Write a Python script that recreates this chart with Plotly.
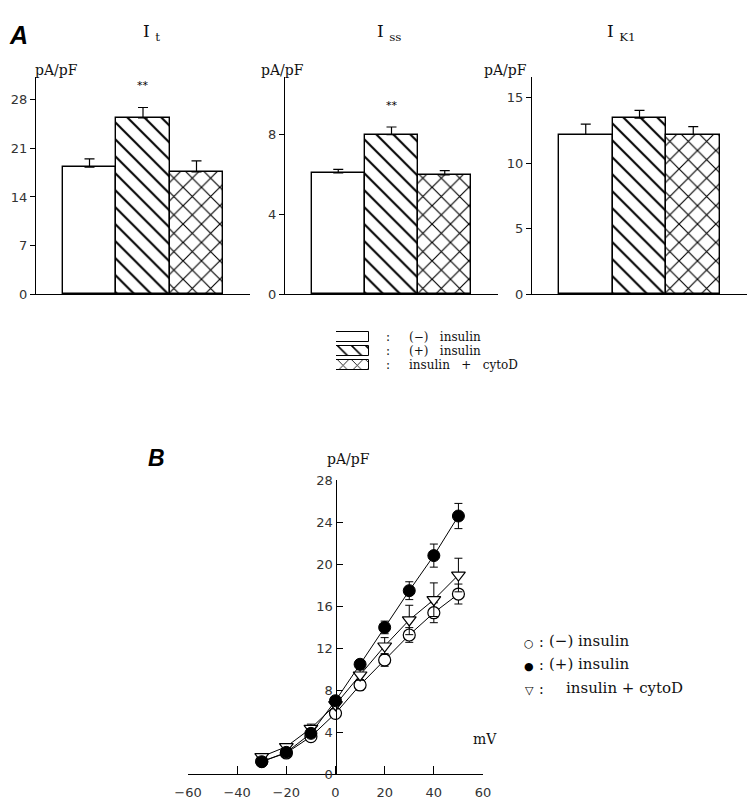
import plotly.graph_objects as go

# ---------------- data ----------------
CONDITIONS = ["(−) insulin", "(+) insulin", "insulin + cytoD"]
A_TITLES = ["I <sub>t</sub>", "I <sub>ss</sub>", "I <sub>K1</sub>"]
IT_MEAN = [18.3, 25.4, 17.6]
IT_SEM = [1.2, 1.5, 1.6]
ISS_MEAN = [6.05, 7.97, 5.95]
ISS_SEM = [0.18, 0.38, 0.22]
IK1_MEAN = [12.2, 13.45, 12.2]
IK1_SEM = [0.8, 0.6, 0.6]
A_YTICKS = [[0, 7, 14, 21, 28], [0, 4, 8], [0, 5, 10, 15]]
A_YMAX = [31.3, 10.85, 16.6]
SIGNIF = [["", "**", ""], ["", "**", ""], ["", "", ""]]

VOLT = [-30, -20, -10, 0, 10, 20, 30, 40, 50]
MINUS_INS = [1.2, 2.0, 3.56, 5.78, 8.48, 10.86, 13.24, 15.36, 17.14]
MINUS_INS_SEM = [0.3, 0.3, 0.4, 0.4, 0.5, 0.6, 0.7, 0.95, 0.95]
PLUS_INS = [1.17, 2.06, 3.87, 6.98, 10.45, 13.96, 17.46, 20.8, 24.57]
PLUS_INS_SEM = [0.3, 0.3, 0.4, 0.4, 0.4, 0.6, 0.85, 1.1, 1.2]
CYTOD = [1.65, 2.6, 4.35, 6.6, 9.43, 12.19, 14.67, 16.6, 18.95]
CYTOD_SEM = [0.3, 0.3, 0.4, 0.4, 0.5, 0.8, 1.4, 1.6, 1.6]
B_XTICKS = [-60, -40, -20, 0, 20, 40, 60]
B_YTICKS = [0, 4, 8, 12, 16, 20, 24, 28]

# ---------------- layout helpers ----------------
W, H = 755, 810


def px(x):
    return x / W


def py(y):
    return 1 - y / H


SERIF = "DejaVu Serif"
SANS = "DejaVu Sans"
TICKFONT = dict(family=SANS, size=13, color="#333")

fig = go.Figure()

# ---------------- panel A bars ----------------
means = [IT_MEAN, ISS_MEAN, IK1_MEAN]
sems = [IT_SEM, ISS_SEM, IK1_SEM]
x_domains = [(36, 250), (285, 498), (532, 747)]
patterns = ["", "\\", "x"]
pattern_sizes = [8, 12, 13]

annotations = []
for i in range(3):
    sfx = "" if i == 0 else str(i + 1)
    fig.add_trace(go.Bar(
        x=CONDITIONS, y=means[i], width=1,
        xaxis="x" + sfx, yaxis="y" + sfx,
        marker=dict(color="white", line=dict(color="black", width=1.4),
                    pattern=dict(shape=patterns, size=pattern_sizes, solidity=0.17,
                                 fgcolor="black", bgcolor="white", fgopacity=1)),
        error_y=dict(type="data", array=sems[i], arrayminus=[0] * 3, symmetric=False,
                     color="black", thickness=1.2, width=5),
        showlegend=False, cliponaxis=False,
    ))
    x0, x1 = x_domains[i]
    fig.update_layout(**{
        "xaxis" + sfx: dict(domain=[px(x0), px(x1)], anchor="y" + sfx, range=[-1, 3],
                            type="category", showline=True, linecolor="black", linewidth=1,
                            ticks="", showticklabels=False, showgrid=False, zeroline=False,
                            automargin=False),
        "yaxis" + sfx: dict(domain=[py(294), py(77)], anchor="x" + sfx, range=[0, A_YMAX[i]],
                            tickvals=A_YTICKS[i], ticks="outside", ticklen=5, tickcolor="black",
                            showline=True, linecolor="black", linewidth=1, showgrid=False,
                            zeroline=False, tickfont=TICKFONT, automargin=False),
    })
    # significance stars
    for j, s in enumerate(SIGNIF[i]):
        if s:
            annotations.append(dict(x=CONDITIONS[j], y=means[i][j] + sems[i][j] + 0.1 * A_YMAX[i],
                                    xref="x" + sfx, yref="y" + sfx, text=s, showarrow=False,
                                    font=dict(family=SANS, size=11, color="black")))
    # titles and unit labels
    cx = (x0 + x1) / 2 - 2
    annotations.append(dict(x=px(cx), y=py(19), xref="paper", yref="paper", text=A_TITLES[i],
                            showarrow=False, font=dict(family=SERIF, size=17, color="#111")))
    annotations.append(dict(x=px(x0 - 3), y=py(60), xref="paper", yref="paper", text="pA/pF",
                            showarrow=False, font=dict(family=SERIF, size=14, color="#111")))

# ---------------- panel A legend keys ----------------
fig.add_trace(go.Bar(
    y=CONDITIONS, x=[1, 1, 1], orientation="h", width=0.76,
    xaxis="x4", yaxis="y4",
    marker=dict(color="white", line=dict(color="black", width=1),
                pattern=dict(shape=patterns, size=[8, 10, 10], solidity=0.16,
                             fgcolor="black", bgcolor="white", fgopacity=1)),
    showlegend=False, hoverinfo="skip",
))
leg_rows_a = [337, 351, 365]
fig.update_layout(
    xaxis4=dict(domain=[px(336), px(369)], anchor="y4", range=[0, 1], visible=False,
                automargin=False),
    yaxis4=dict(domain=[py(372), py(330)], anchor="x4", autorange="reversed",
                type="category", visible=False, automargin=False),
)
for k, lab in enumerate(CONDITIONS):
    annotations.append(dict(x=px(388), y=py(leg_rows_a[k]), xref="paper", yref="paper", text=":",
                            showarrow=False, xanchor="center",
                            font=dict(family=SERIF, size=12, color="#111")))
    annotations.append(dict(x=px(407), y=py(leg_rows_a[k]), xref="paper", yref="paper",
                            text=lab.replace(" ", "   "), showarrow=False, xanchor="left",
                            font=dict(family=SERIF, size=12, color="#111")))

# ---------------- panel B ----------------
series_b = [
    (MINUS_INS, MINUS_INS_SEM, dict(symbol="circle", color="white", size=12,
                                    line=dict(color="black", width=1.2))),
    (CYTOD, CYTOD_SEM, dict(symbol="triangle-down", color="white", size=12,
                            line=dict(color="black", width=1.2))),
    (PLUS_INS, PLUS_INS_SEM, dict(symbol="circle", color="black", size=12,
                                  line=dict(color="black", width=1))),
]
for yv, ev, mk in series_b:
    fig.add_trace(go.Scatter(
        x=VOLT, y=yv, mode="lines+markers", xaxis="x5", yaxis="y5",
        line=dict(color="black", width=1), marker=mk,
        error_y=dict(type="data", array=ev, color="black", thickness=1, width=4),
        showlegend=False, cliponaxis=False,
    ))

bx0, bx1 = 188, 483
fig.update_layout(
    xaxis5=dict(domain=[px(bx0), px(bx1)], anchor="y5", range=[-60, 60], tickvals=B_XTICKS,
                ticks="inside", ticklen=8, tickcolor="black", showline=True, linecolor="black",
                linewidth=1, showgrid=False, zeroline=False, tickfont=TICKFONT, automargin=False,
                ticklabelstandoff=6),
    yaxis5=dict(domain=[py(774), py(480)], anchor="free", position=px((bx0 + bx1) / 2),
                range=[0, 28], tickvals=B_YTICKS, ticks="inside", ticklen=6, tickcolor="black",
                showline=True, linecolor="black", linewidth=1, showgrid=False, zeroline=False,
                tickfont=TICKFONT, automargin=False),
)
annotations.append(dict(x=px(348), y=py(459), xref="paper", yref="paper", text="pA/pF",
                        showarrow=False, font=dict(family=SERIF, size=14, color="#111")))
annotations.append(dict(x=px(485), y=py(749), xref="paper", yref="paper", text="mV",
                        showarrow=False, font=dict(family=SERIF, size=14, color="#111")))

# panel B legend
glyphs = ["○", "●", "▽"]
leg_rows_b = [652, 675, 699]
text_x = [547, 547, 564]
for k, lab in enumerate(CONDITIONS):
    annotations.append(dict(x=px(529), y=py(leg_rows_b[k]), xref="paper", yref="paper",
                            text=glyphs[k], showarrow=False, xanchor="center",
                            font=dict(family=SANS, size=11, color="black")))
    annotations.append(dict(x=px(541), y=py(leg_rows_b[k]), xref="paper", yref="paper", text=":",
                            showarrow=False, xanchor="center",
                            font=dict(family=SERIF, size=14, color="#111")))
    annotations.append(dict(x=px(text_x[k]), y=py(leg_rows_b[k]), xref="paper", yref="paper",
                            text=lab, showarrow=False, xanchor="left",
                            font=dict(family=SERIF, size=15, color="#111")))

# panel letters
annotations.append(dict(x=px(7), y=py(19), xref="paper", yref="paper", text="<b><i>A</i></b>",
                        showarrow=False, xanchor="left",
                        font=dict(family="Liberation Sans", size=25, color="black")))
annotations.append(dict(x=px(146), y=py(458), xref="paper", yref="paper", text="<b><i>B</i></b>",
                        showarrow=False, xanchor="left",
                        font=dict(family="Liberation Sans", size=23, color="black")))

fig.update_layout(
    width=W, height=H, margin=dict(l=0, r=0, t=0, b=0, autoexpand=False),
    paper_bgcolor="white", plot_bgcolor="white",
    bargap=0, annotations=annotations, showlegend=False,
)

fig.write_html("out.html", config={"displayModeBar": False},
               post_script="document.body.style.margin='0';document.body.style.overflow='hidden';")
